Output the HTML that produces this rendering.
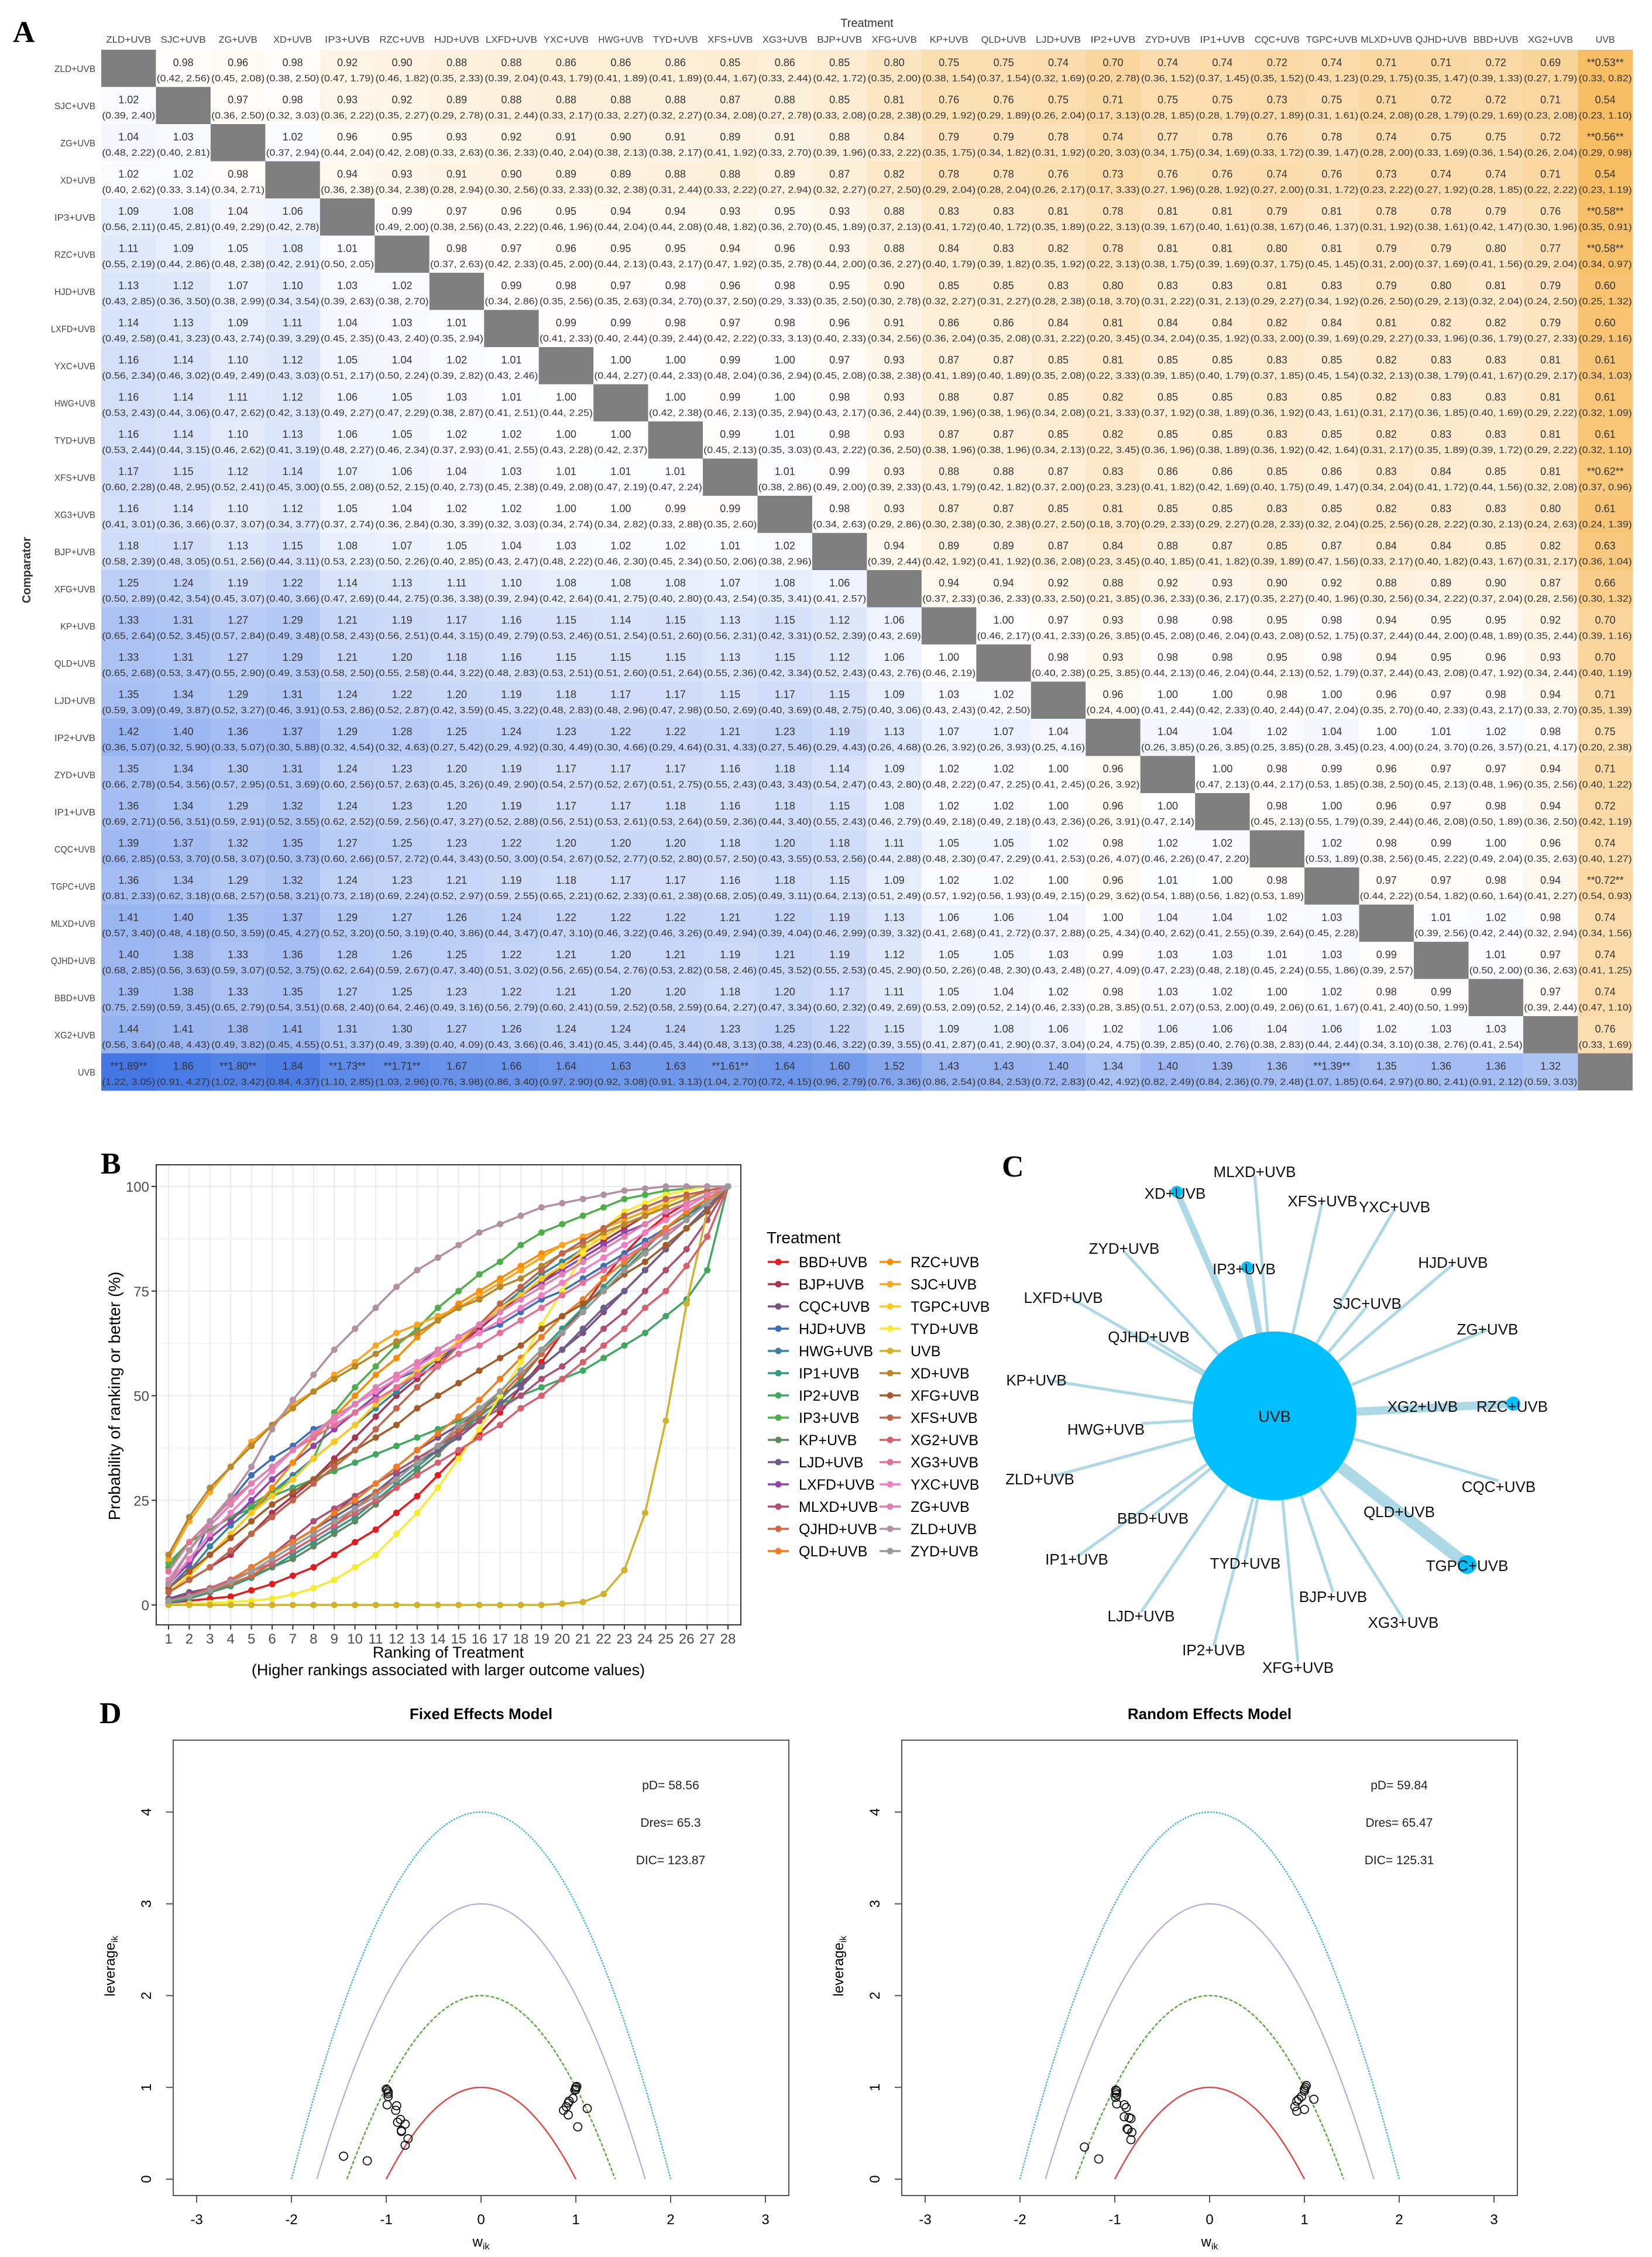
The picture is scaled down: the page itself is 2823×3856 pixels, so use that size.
<!DOCTYPE html>
<html><head><meta charset="utf-8"><title>NMA figure</title>
<style>
html,body{margin:0;padding:0;background:#fff;}
svg{display:block;font-family:"Liberation Sans",Arial,sans-serif;}
</style></head>
<body>
<svg id="fig" xmlns="http://www.w3.org/2000/svg" width="2823" height="3856" viewBox="0 0 2823 3856">
<rect x="0" y="0" width="2823" height="3856" fill="#fff"/>
<g id="pA"></g>
<g id="pB"></g>
<g id="pC"></g>
<g id="pD"></g>
</svg>
<script>
// ---------------- DATA ----------------
const treatments = ["ZLD+UVB","SJC+UVB","ZG+UVB","XD+UVB","IP3+UVB","RZC+UVB","HJD+UVB","LXFD+UVB","YXC+UVB","HWG+UVB","TYD+UVB","XFS+UVB","XG3+UVB","BJP+UVB","XFG+UVB","KP+UVB","QLD+UVB","LJD+UVB","IP2+UVB","ZYD+UVB","IP1+UVB","CQC+UVB","TGPC+UVB","MLXD+UVB","QJHD+UVB","BBD+UVB","XG2+UVB","UVB"];
const leagueEst = [[],
[1.02],
[1.04,1.03],
[1.02,1.02,0.98],
[1.09,1.08,1.04,1.06],
[1.11,1.09,1.05,1.08,1.01],
[1.13,1.12,1.07,1.10,1.03,1.02],
[1.14,1.13,1.09,1.11,1.04,1.03,1.01],
[1.16,1.14,1.10,1.12,1.05,1.04,1.02,1.01],
[1.16,1.14,1.11,1.12,1.06,1.05,1.03,1.01,1.00],
[1.16,1.14,1.10,1.13,1.06,1.05,1.02,1.02,1.00,1.00],
[1.17,1.15,1.12,1.14,1.07,1.06,1.04,1.03,1.01,1.01,1.01],
[1.16,1.14,1.10,1.12,1.05,1.04,1.02,1.02,1.00,1.00,0.99,0.99],
[1.18,1.17,1.13,1.15,1.08,1.07,1.05,1.04,1.03,1.02,1.02,1.01,1.02],
[1.25,1.24,1.19,1.22,1.14,1.13,1.11,1.10,1.08,1.08,1.08,1.07,1.08,1.06],
[1.33,1.31,1.27,1.29,1.21,1.19,1.17,1.16,1.15,1.14,1.15,1.13,1.15,1.12,1.06],
[1.33,1.31,1.27,1.29,1.21,1.20,1.18,1.16,1.15,1.15,1.15,1.13,1.15,1.12,1.06,1.00],
[1.35,1.34,1.29,1.31,1.24,1.22,1.20,1.19,1.18,1.17,1.17,1.15,1.17,1.15,1.09,1.03,1.02],
[1.42,1.40,1.36,1.37,1.29,1.28,1.25,1.24,1.23,1.22,1.22,1.21,1.23,1.19,1.13,1.07,1.07,1.04],
[1.35,1.34,1.30,1.31,1.24,1.23,1.20,1.19,1.17,1.17,1.17,1.16,1.18,1.14,1.09,1.02,1.02,1.00,0.96],
[1.36,1.34,1.29,1.32,1.24,1.23,1.20,1.19,1.17,1.17,1.18,1.16,1.18,1.15,1.08,1.02,1.02,1.00,0.96,1.00],
[1.39,1.37,1.32,1.35,1.27,1.25,1.23,1.22,1.20,1.20,1.20,1.18,1.20,1.18,1.11,1.05,1.05,1.02,0.98,1.02,1.02],
[1.36,1.34,1.29,1.32,1.24,1.23,1.21,1.19,1.18,1.17,1.17,1.16,1.18,1.15,1.09,1.02,1.02,1.00,0.96,1.01,1.00,0.98],
[1.41,1.40,1.35,1.37,1.29,1.27,1.26,1.24,1.22,1.22,1.22,1.21,1.22,1.19,1.13,1.06,1.06,1.04,1.00,1.04,1.04,1.02,1.03],
[1.40,1.38,1.33,1.36,1.28,1.26,1.25,1.22,1.21,1.20,1.21,1.19,1.21,1.19,1.12,1.05,1.05,1.03,0.99,1.03,1.03,1.01,1.03,0.99],
[1.39,1.38,1.33,1.35,1.27,1.25,1.23,1.22,1.21,1.20,1.20,1.18,1.20,1.17,1.11,1.05,1.04,1.02,0.98,1.03,1.02,1.00,1.02,0.98,0.99],
[1.44,1.41,1.38,1.41,1.31,1.30,1.27,1.26,1.24,1.24,1.24,1.23,1.25,1.22,1.15,1.09,1.08,1.06,1.02,1.06,1.06,1.04,1.06,1.02,1.03,1.03],
[1.89,1.86,1.80,1.84,1.73,1.71,1.67,1.66,1.64,1.63,1.63,1.61,1.64,1.60,1.52,1.43,1.43,1.40,1.34,1.40,1.39,1.36,1.39,1.35,1.36,1.36,1.32]];
const leagueLo = [[],
[0.39],
[0.48,0.40],
[0.40,0.33,0.34],
[0.56,0.45,0.49,0.42],
[0.55,0.44,0.48,0.42,0.50],
[0.43,0.36,0.38,0.34,0.39,0.38],
[0.49,0.41,0.43,0.39,0.45,0.43,0.35],
[0.56,0.46,0.49,0.43,0.51,0.50,0.39,0.43],
[0.53,0.44,0.47,0.42,0.49,0.47,0.38,0.41,0.44],
[0.53,0.44,0.46,0.41,0.48,0.46,0.37,0.41,0.43,0.42],
[0.60,0.48,0.52,0.45,0.55,0.52,0.40,0.45,0.49,0.47,0.47],
[0.41,0.36,0.37,0.34,0.37,0.36,0.30,0.32,0.34,0.34,0.33,0.35],
[0.58,0.48,0.51,0.44,0.53,0.50,0.40,0.43,0.48,0.46,0.45,0.50,0.38],
[0.50,0.42,0.45,0.40,0.47,0.44,0.36,0.39,0.42,0.41,0.40,0.43,0.35,0.41],
[0.65,0.52,0.57,0.49,0.58,0.56,0.44,0.49,0.53,0.51,0.51,0.56,0.42,0.52,0.43],
[0.65,0.53,0.55,0.49,0.58,0.55,0.44,0.48,0.53,0.51,0.51,0.55,0.42,0.52,0.43,0.46],
[0.59,0.49,0.52,0.46,0.53,0.52,0.42,0.45,0.48,0.48,0.47,0.50,0.40,0.48,0.40,0.43,0.42],
[0.36,0.32,0.33,0.30,0.32,0.32,0.27,0.29,0.30,0.30,0.29,0.31,0.27,0.29,0.26,0.26,0.26,0.25],
[0.66,0.54,0.57,0.51,0.60,0.57,0.45,0.49,0.54,0.52,0.51,0.55,0.43,0.54,0.43,0.48,0.47,0.41,0.26],
[0.69,0.56,0.59,0.52,0.62,0.59,0.47,0.52,0.56,0.53,0.53,0.59,0.44,0.55,0.46,0.49,0.49,0.43,0.26,0.47],
[0.66,0.53,0.58,0.50,0.60,0.57,0.44,0.50,0.54,0.52,0.52,0.57,0.43,0.53,0.44,0.48,0.47,0.41,0.26,0.46,0.47],
[0.81,0.62,0.68,0.58,0.73,0.69,0.52,0.59,0.65,0.62,0.61,0.68,0.49,0.64,0.51,0.57,0.56,0.49,0.29,0.54,0.56,0.53],
[0.57,0.48,0.50,0.45,0.52,0.50,0.40,0.44,0.47,0.46,0.46,0.49,0.39,0.46,0.39,0.41,0.41,0.37,0.25,0.40,0.41,0.39,0.45],
[0.68,0.56,0.59,0.52,0.62,0.59,0.47,0.51,0.56,0.54,0.53,0.58,0.45,0.55,0.45,0.50,0.48,0.43,0.27,0.47,0.48,0.45,0.55,0.39],
[0.75,0.59,0.65,0.54,0.68,0.64,0.49,0.56,0.60,0.59,0.58,0.64,0.47,0.60,0.49,0.53,0.52,0.46,0.28,0.51,0.53,0.49,0.61,0.41,0.50],
[0.56,0.48,0.49,0.45,0.51,0.49,0.40,0.43,0.46,0.45,0.45,0.48,0.38,0.46,0.39,0.41,0.41,0.37,0.24,0.39,0.40,0.38,0.44,0.34,0.38,0.41],
[1.22,0.91,1.02,0.84,1.10,1.03,0.76,0.86,0.97,0.92,0.91,1.04,0.72,0.96,0.76,0.86,0.84,0.72,0.42,0.82,0.84,0.79,1.07,0.64,0.80,0.91,0.59]];
const leagueHi = [[],
[2.40],
[2.22,2.81],
[2.62,3.14,2.71],
[2.11,2.81,2.29,2.78],
[2.19,2.86,2.38,2.91,2.05],
[2.85,3.50,2.99,3.54,2.63,2.70],
[2.58,3.23,2.74,3.29,2.35,2.40,2.94],
[2.34,3.02,2.49,3.03,2.17,2.24,2.82,2.46],
[2.43,3.06,2.62,3.13,2.27,2.29,2.87,2.51,2.25],
[2.44,3.15,2.62,3.19,2.27,2.34,2.93,2.55,2.28,2.37],
[2.28,2.95,2.41,3.00,2.08,2.15,2.73,2.38,2.08,2.19,2.24],
[3.01,3.66,3.07,3.77,2.74,2.84,3.39,3.03,2.74,2.82,2.88,2.60],
[2.39,3.05,2.56,3.11,2.23,2.26,2.85,2.47,2.22,2.30,2.34,2.06,2.96],
[2.89,3.54,3.07,3.66,2.69,2.75,3.38,2.94,2.64,2.75,2.80,2.54,3.41,2.57],
[2.64,3.45,2.84,3.48,2.43,2.51,3.15,2.79,2.46,2.54,2.60,2.31,3.31,2.39,2.69],
[2.68,3.47,2.90,3.53,2.50,2.58,3.22,2.83,2.51,2.60,2.64,2.36,3.34,2.43,2.76,2.19],
[3.09,3.87,3.27,3.91,2.86,2.87,3.59,3.22,2.83,2.96,2.98,2.69,3.69,2.75,3.06,2.43,2.50],
[5.07,5.90,5.07,5.88,4.54,4.63,5.42,4.92,4.49,4.66,4.64,4.33,5.46,4.43,4.68,3.92,3.93,4.16],
[2.78,3.56,2.95,3.69,2.56,2.63,3.26,2.90,2.57,2.67,2.75,2.43,3.43,2.47,2.80,2.22,2.25,2.45,3.92],
[2.71,3.51,2.91,3.55,2.52,2.56,3.27,2.88,2.51,2.61,2.64,2.36,3.40,2.43,2.79,2.18,2.18,2.36,3.91,2.14],
[2.85,3.70,3.07,3.73,2.66,2.72,3.43,3.00,2.67,2.77,2.80,2.50,3.55,2.56,2.88,2.30,2.29,2.53,4.07,2.26,2.20],
[2.33,3.18,2.57,3.21,2.18,2.24,2.97,2.55,2.21,2.33,2.38,2.05,3.11,2.13,2.49,1.92,1.93,2.15,3.62,1.88,1.82,1.89],
[3.40,4.18,3.59,4.27,3.20,3.19,3.86,3.47,3.10,3.22,3.26,2.94,4.04,2.99,3.32,2.68,2.72,2.88,4.34,2.62,2.55,2.64,2.28],
[2.85,3.63,3.07,3.75,2.64,2.67,3.40,3.02,2.65,2.76,2.82,2.46,3.52,2.53,2.90,2.26,2.30,2.48,4.09,2.23,2.18,2.24,1.86,2.57],
[2.59,3.45,2.79,3.51,2.40,2.46,3.16,2.79,2.41,2.52,2.59,2.27,3.34,2.32,2.69,2.09,2.14,2.33,3.85,2.07,2.00,2.06,1.67,2.40,1.99],
[3.64,4.43,3.82,4.55,3.37,3.39,4.09,3.66,3.41,3.44,3.44,3.13,4.23,3.22,3.55,2.87,2.90,3.04,4.75,2.85,2.76,2.83,2.44,3.10,2.76,2.54],
[3.05,4.27,3.42,4.37,2.85,2.96,3.98,3.40,2.90,3.08,3.13,2.70,4.15,2.79,3.36,2.54,2.53,2.83,4.92,2.49,2.36,2.48,1.85,2.97,2.41,2.12,3.03]];

// Panel B: cumulative ranking probabilities (%), ranks 1..28
const rankTicks = [1,2,3,4,5,6,7,8,9,10,11,12,13,14,15,16,17,18,19,20,21,22,23,24,25,26,27,28];
const probTicks = [0,25,50,75,100];
const sucraNames = ["BBD+UVB","BJP+UVB","CQC+UVB","HJD+UVB","HWG+UVB","IP1+UVB","IP2+UVB","IP3+UVB","KP+UVB","LJD+UVB","LXFD+UVB","MLXD+UVB","QJHD+UVB","QLD+UVB","RZC+UVB","SJC+UVB","TGPC+UVB","TYD+UVB","UVB","XD+UVB","XFG+UVB","XFS+UVB","XG2+UVB","XG3+UVB","YXC+UVB","ZG+UVB","ZLD+UVB","ZYD+UVB"];
const sucraColors = ["#e41a1c","#a8344f","#7a5082","#3d6fb6","#36849f","#2f9a86","#3fa85e","#4daf4a","#5e8a62","#6b5e8c","#8e44ad","#b04e72","#d06a3e","#f47b20","#ff8c00","#ffa41c","#ffc81a","#f8ec2a","#d2b22c","#b8862b","#a65a28","#c0654a","#d8606e","#e86f98","#f47cc4","#e07fb0","#b38fa2","#999999"];
const sBBD=[0.5,1,1.5,2,3.5,5,7,9,12,15,18,22,26,31,36,41,46,52,58,65,71,78,84,89,93,96,98,100];
const sBJP=[3,6,9,12,17,22,26,30,35,40,45,50,54,58,62,66,70,74,77,81,84,87,90,93,95,97,99,100];
const sCQC=[1.5,3,4,6,9,12,15,18,22,26,29,33,37,40,43,46,50,53,57,61,65,70,75,80,85,90,95,100];
const sHJD=[4,9,20,25,31,35,38,42,44,48,51,54,56,59,62,65,67,70,73,75,78,81,84,87,90,93,96,100];
const sHWG=[4,8,14,19,23,27,31,35,39,43,47,51,55,59,63,67,71,75,79,82,85,88,91,93,95,97,99,100];
const sIP1=[0.5,1.5,3,4.5,6.5,9,12,15,18,21,25,29,33,37,41,46,51,56,61,66,71,76,81,86,90,94,97,100];
const sIP2=[9,15,18,21,23,26,28,30,32,34,36,38,40,42,44,46,48,50,52,54,56,59,62,65,69,73,80,100];
const sIP3=[10,15,18,21,24,27,30,35,46,52,57,62,66,71,75,79,82,86,89,91,93,95,97,98,99,99.5,100,100];
const sKP=[1,2,3,5,7,9,11,14,17,20,24,28,32,36,41,45,49,54,60,65,70,75,80,85,90,93,97,100];
const sLJD=[1,2.5,4,6,9,12,15,18,21,24,27,31,34,37,40,44,48,52,57,61,66,71,75,80,85,90,95,100];
const sLXFD=[5,10,16,20,25,30,34,38,42,46,50,54,57,61,64,67,71,74,77,80,83,86,89,91,94,96,98,100];
const sMLXD=[1,2.5,4,6,9,12,16,20,23,26,29,32,35,38,41,44,47,50,54,57,61,66,70,75,80,85,92,100];
const sQJHD=[1,2,3.5,5,7,10,13,16,19,23,27,30,34,38,42,46,50,55,60,65,70,75,80,84,88,92,96,100];
const sQLD=[1,2,4,6,9,12,15,18,22,25,29,33,37,41,45,49,54,59,64,69,73,78,82,86,90,94,97,100];
const sRZC=[4,8,12,17,22,28,34,40,45,50,55,59,64,68,72,75,78,81,84,86,88,90,92,94,96,98,99,100];
const sSJC=[11,20,27,33,39,43,48,51,55,58,62,65,67,69,71,74,77,80,83,86,88,90,92,94,96,98,99,100];
const sTGPC=[3,7,12,17,22,26,30,35,39,43,48,52,56,59,63,67,71,74,78,81,85,88,91,93,96,98,99,100];
const sTYD=[0,0.3,0.5,0.7,1,1.5,2.5,4,6,9,12,17,22,28,35,42,50,58,67,75,84,90,94,96,98,99,100,100];
const sUVB=[0,0,0,0,0,0,0,0,0,0,0,0,0,0,0,0,0,0,0,0.3,0.7,2.6,8.3,22,44,72,94,100];
const sXD=[12,21,28,33,38,43,47,51,54,57,60,63,65,68,71,73,76,78,81,84,86,89,91,93,95,97,99,100];
const sXFG=[4,8,12,16,20,24,27,30,34,37,40,43,47,50,53,56,59,62,66,69,72,75,79,82,86,90,94,100];
const sXFS=[3,6,9,13,17,21,25,29,33,37,42,47,52,57,62,67,72,76,80,84,87,90,93,95,97,98,99,100];
const sXG2=[1,2,4,6,8,10,13,16,19,22,25,28,31,34,37,40,43,47,50,54,58,62,66,71,75,81,88,100];
const sXG3=[8,15,20,25,29,33,37,40,43,46,49,52,55,57,60,62,65,68,71,74,77,80,83,86,89,92,96,100];
const sYXC=[5,11,17,22,27,32,37,41,44,48,51,54,57,60,62,65,68,71,74,77,80,83,86,89,92,95,98,100];
const sZG=[6,13,19,24,29,33,37,41,45,48,52,55,58,61,64,67,70,73,76,79,82,85,88,91,94,96,98,100];
const sZLD=[5,13,20,26,33,42,49,55,61,66,71,76,80,83,86,89,91,93,95,96,97,98,99,99.5,100,100,100,100];
const sZYD=[1,2,3.5,5.5,8,11,14,17,20,23,26,30,34,38,43,47,51,56,61,65,70,75,80,84,88,92,96,100];
const sucraSeries=[sBBD,sBJP,sCQC,sHJD,sHWG,sIP1,sIP2,sIP3,sKP,sLJD,sLXFD,sMLXD,sQJHD,sQLD,sRZC,sSJC,sTGPC,sTYD,sUVB,sXD,sXFG,sXFS,sXG2,sXG3,sYXC,sZG,sZLD,sZYD];

// Panel C: network (number of studies per edge with UVB)
const netNodes = ["MLXD+UVB","XD+UVB","XFS+UVB","YXC+UVB","ZYD+UVB","IP3+UVB","HJD+UVB","LXFD+UVB","SJC+UVB","ZG+UVB","QJHD+UVB","KP+UVB","XG2+UVB","RZC+UVB","HWG+UVB","ZLD+UVB","CQC+UVB","QLD+UVB","BBD+UVB","TGPC+UVB","IP1+UVB","TYD+UVB","BJP+UVB","LJD+UVB","XG3+UVB","IP2+UVB","XFG+UVB"];
const netStudies = [1,3,1,1,1,3,1,1,1,1,1,1,1,4,1,1,1,1,1,6,1,1,1,1,1,1,1];

// Panel D: leverage vs w_ik
const levCurves=[4,3,2,1];
const wTicks=[-3,-2,-1,0,1,2,3];
const levTicks=[0,1,2,3,4];
const fixedW=[-1.0,-0.99,-0.98,-0.98,-0.98,-0.99,-0.89,-0.9,-0.85,-0.88,-0.8,-0.84,-0.84,-0.77,-0.8,-1.45,-1.2,1.0,1.01,1.0,0.99,0.97,0.93,0.92,0.9,0.87,0.92,1.12,1.02];
const fixedLev=[0.98,0.97,0.95,0.93,0.90,0.81,0.80,0.75,0.65,0.62,0.60,0.53,0.52,0.44,0.37,0.25,0.20,1.0,1.01,0.98,0.97,0.88,0.85,0.83,0.79,0.75,0.70,0.77,0.57];
const randW=[-0.99,-0.98,-0.99,-0.98,-0.99,-0.98,-0.9,-0.88,-0.9,-0.85,-0.83,-0.87,-0.86,-0.82,-0.83,-1.32,-1.17,1.02,1.01,1.0,1.0,0.97,0.94,0.92,0.9,0.92,1.0,1.1];
const randLev=[0.97,0.96,0.94,0.92,0.89,0.82,0.81,0.78,0.68,0.67,0.66,0.55,0.54,0.51,0.43,0.35,0.22,1.02,1.0,0.98,0.96,0.90,0.87,0.85,0.79,0.74,0.76,0.87];
const fixedStats=["pD= 58.56","Dres= 65.3","DIC= 123.87"];
const randStats=["pD= 59.84","Dres= 65.47","DIC= 125.31"];

// ---------------- HELPERS ----------------
const NS="http://www.w3.org/2000/svg";
function mk(parent,tag,attrs,text){const e=document.createElementNS(NS,tag);for(const k in attrs)e.setAttribute(k,attrs[k]);if(text!==undefined)e.textContent=text;parent.appendChild(e);return e;}
const f2=v=>v.toFixed(2);

// ---------------- PANEL A ----------------
(function(){
const g=document.getElementById('pA');
const x0=173,y0=85,cw=93.46,rh=63.5,n=treatments.length;
let t=mk(g,'text',{x:22,y:72,'font-family':'Liberation Serif,serif','font-weight':'bold','font-size':52,fill:'#000'},'A');

t=mk(g,'text',{x:x0+cw*n/2,y:46,'text-anchor':'middle','font-size':20,fill:'#333'},'Treatment');

t=mk(g,'text',{x:0,y:0,'text-anchor':'middle','font-size':20,'font-weight':'bold',fill:'#333',transform:'translate(52,'+(y0+rh*n/2)+') rotate(-90)'},'Comparator');

function color(v){let tt=Math.log(v)/Math.log(1.9);tt=Math.max(-1,Math.min(1,tt));
 let c=tt>=0?[66,118,228]:[247,190,100];let a=Math.abs(tt);
 if(tt<0)a=Math.min(1,a*1.15);
 const r=Math.round(255+(c[0]-255)*a),gg=Math.round(255+(c[1]-255)*a),b=Math.round(255+(c[2]-255)*a);return `rgb(${r},${gg},${b})`;}
for(let j=0;j<n;j++){const h=mk(g,'text',{x:x0+cw*j+cw/2,y:73,'text-anchor':'middle','font-size':16,fill:'#444',textLength:Math.min(88,treatments[j].length*11),lengthAdjust:'spacingAndGlyphs'},treatments[j]);
 }
for(let i=0;i<n;i++){const h=mk(g,'text',{x:163,y:y0+rh*i+rh/2+6,'text-anchor':'end','font-size':16,fill:'#444',textLength:Math.min(76,treatments[i].length*10),lengthAdjust:'spacingAndGlyphs'},treatments[i]);
 }
for(let i=0;i<n;i++)for(let j=0;j<n;j++){
 const x=x0+cw*j,y=y0+rh*i;
 if(i===j){const r=mk(g,'rect',{x:x,y:y,width:cw,height:rh,fill:'#7f7f7f'});continue;}
 let v,lo,hi;
 if(i>j){v=leagueEst[i][j];lo=leagueLo[i][j];hi=leagueHi[i][j];}
 else{v=1/leagueEst[j][i];lo=1/leagueHi[j][i];hi=1/leagueLo[j][i];}
 const cell=mk(g,'g',{});
 mk(cell,'rect',{x:x,y:y,width:cw+0.5,height:rh+0.5,fill:color(v)});
 const sig=(lo>1||hi<1);
 mk(cell,'text',{x:x+cw/2,y:y+28,'text-anchor':'middle','font-size':18,fill:'#333'},(sig?'**':'')+f2(v)+(sig?'**':''));
 mk(cell,'text',{x:x+cw/2,y:y+54,'text-anchor':'middle','font-size':16,fill:'#333',textLength:91,lengthAdjust:'spacingAndGlyphs'},'('+f2(lo)+', '+f2(hi)+')');
}
})();

// ---------------- PANEL B ----------------
(function(){
const g=document.getElementById('pB');
const L=267,R=1266,T=1990,B=2776;
const xB=r=>288+(r-1)*(1244-288)/27;
const yB=v=>2742-v*(2742-2027)/100;
let t=mk(g,'text',{x:172,y:2005,'font-family':'Liberation Serif,serif','font-weight':'bold','font-size':52},'B');

mk(g,'rect',{x:L,y:T,width:R-L,height:B-T,fill:'#fff'});
for(let v=-12.5;v<=112.5;v+=12.5){const yy=yB(v);if(yy<T||yy>B)continue;mk(g,'line',{x1:L,x2:R,y1:yy,y2:yy,stroke:'#ebebeb','stroke-width':probTicks.includes(v)?2:1});}
rankTicks.forEach(r=>mk(g,'line',{x1:xB(r),x2:xB(r),y1:T,y2:B,stroke:'#ebebeb','stroke-width':2}));
sucraSeries.forEach((s,k)=>{
 const sg=mk(g,'g',{});
 mk(sg,'polyline',{points:s.map((v,i)=>xB(rankTicks[i])+','+yB(v)).join(' '),fill:'none',stroke:sucraColors[k],'stroke-width':3.5});
 s.forEach((v,i)=>mk(sg,'circle',{cx:xB(rankTicks[i]),cy:yB(v),r:5.5,fill:sucraColors[k]}));
});
mk(g,'rect',{x:L,y:T,width:R-L,height:B-T,fill:'none',stroke:'#333','stroke-width':2});
probTicks.forEach(v=>{mk(g,'line',{x1:L-8,x2:L,y1:yB(v),y2:yB(v),stroke:'#333','stroke-width':2});
 const tt=mk(g,'text',{x:L-12,y:yB(v)+9,'text-anchor':'end','font-size':24,fill:'#4d4d4d'},String(v));});
rankTicks.forEach(r=>{mk(g,'line',{x1:xB(r),x2:xB(r),y1:B,y2:B+8,stroke:'#333','stroke-width':2});
 const tt=mk(g,'text',{x:xB(r),y:B+32,'text-anchor':'middle','font-size':24,fill:'#4d4d4d'},String(r));});
t=mk(g,'text',{x:0,y:0,'text-anchor':'middle','font-size':28,fill:'#000',transform:'translate(205,2385) rotate(-90)'},'Probability of ranking or better (%)');

t=mk(g,'text',{x:766,y:2832,'text-anchor':'middle','font-size':27,fill:'#000'},'Ranking of Treatment');

t=mk(g,'text',{x:766,y:2862,'text-anchor':'middle','font-size':27,fill:'#000'},'(Higher rankings associated with larger outcome values)');

t=mk(g,'text',{x:1310,y:2124,'font-size':28,fill:'#000'},'Treatment');

sucraNames.forEach((nm,k)=>{const col=Math.floor(k/14),row=k%14;const lx=col?1503:1312,ly=2156+row*38;
 const e=mk(g,'g',{});
 mk(e,'line',{x1:lx,x2:lx+36,y1:ly,y2:ly,stroke:sucraColors[k],'stroke-width':3.5});
 mk(e,'circle',{cx:lx+18,cy:ly,r:5.5,fill:sucraColors[k]});
 mk(e,'text',{x:lx+53,y:ly+9,'font-size':25,fill:'#000'},nm);});
})();

// ---------------- PANEL C ----------------
(function(){
const g=document.getElementById('pC');
const cx=2178,cy=2419,R=140;
const nodeXY=[[2144,2008],[2011,2036],[2260,2051],[2383,2066],[1921,2138],[2131,2165],[2483,2160],[1830,2218],[2336,2232],[2542,2272],[1963,2284],[1790,2358],[2431,2403],[2586,2398],[1950,2432],[1800,2522],[2561,2530],[2391,2578],[1970,2590],[2507,2673],[1840,2660],[2128,2664],[2278,2720],[1950,2754],[2398,2766],[2074,2812],[2218,2840]];
let t=mk(g,'text',{x:1712,y:2010,'font-family':'Liberation Serif,serif','font-weight':'bold','font-size':52},'C');

netNodes.forEach((nm,k)=>{const [x,y]=nodeXY[k];const e=mk(g,'line',{x1:cx,y1:cy,x2:x,y2:y,stroke:'#add8e6','stroke-width':2+netStudies[k]*3,'stroke-linecap':'butt'});
 });
netNodes.forEach((nm,k)=>{if(netStudies[k]>1){const [x,y]=nodeXY[k];const c=mk(g,'circle',{cx:x,cy:y,r:4+netStudies[k]*2,fill:'#00bfff'});}});
let c=mk(g,'ellipse',{cx:cx,cy:cy,rx:R,ry:R*1.03,fill:'#00bfff'});
t=mk(g,'text',{x:cx,y:cy+10,'text-anchor':'middle','font-size':27,fill:'#111'},'UVB');
const labelXY=[[2144,2011],[2008,2048],[2260,2061],[2383,2071],[1921,2142],[2126,2177],[2483,2166],[1817,2226],[2336,2236],[2542,2280],[1963,2293],[1771,2367],[2431,2412],[2584,2412],[1890,2451],[1777,2536],[2561,2549],[2391,2592],[1970,2603],[2507,2684],[1840,2673],[2128,2680],[2278,2737],[1950,2770],[2398,2781],[2074,2828],[2218,2858]];
netNodes.forEach((nm,k)=>{const [x,y]=labelXY[k];const tt=mk(g,'text',{x:x,y:y,'text-anchor':'middle','font-size':26,fill:'#111'},nm);
 });
})();

// ---------------- PANEL D ----------------
(function(){
const g=document.getElementById('pD');
let t=mk(g,'text',{x:170,y:2944,'font-family':'Liberation Serif,serif','font-weight':'bold','font-size':52},'D');

const styles=[{c:'#47b6d8',d:'3,2',w:2.5},{c:'#b8a9e2',d:'',w:2.2},{c:'#5ea843',d:'6,3',w:2.5},{c:'#e04a4a',d:'',w:2.5}];
function panel(name,L,R,cx0,title,ws,ls,stats,tickX,titleX){
 const T=2973,B=3751;const xD=w=>cx0+w*162;const yD=l=>3723-l*156.8;
 const pg=mk(g,'g',{});
 let tt=mk(pg,'text',{x:(L+R)/2,y:2937,'text-anchor':'middle','font-size':26,'font-weight':'bold',fill:'#000'},title);
 
 mk(pg,'rect',{x:L,y:T,width:R-L,height:B-T,fill:'#fff',stroke:'#555','stroke-width':2});
 levCurves.forEach((c,k)=>{const pts=[];const lim=Math.sqrt(c);for(let i=0;i<=120;i++){const w=-lim+2*lim*i/120;pts.push(xD(w)+','+yD(c-w*w));}
  const p=mk(pg,'polyline',{points:pts.join(' '),fill:'none',stroke:styles[k].c,'stroke-width':styles[k].w,'stroke-dasharray':styles[k].d});
  });
 ws.forEach((w,i)=>{const p=mk(pg,'circle',{cx:xD(w),cy:yD(ls[i]),r:7,fill:'none',stroke:'#111','stroke-width':1.8});});
 stats.forEach((s,i)=>{const e=mk(pg,'text',{x:titleX,y:3057+i*64,'text-anchor':'middle','font-size':21,fill:'#222'},s);});
 wTicks.forEach(w=>{mk(pg,'line',{x1:xD(w),x2:xD(w),y1:B,y2:B+12,stroke:'#555','stroke-width':2});
  const e=mk(pg,'text',{x:xD(w),y:3800,'text-anchor':'middle','font-size':24,fill:'#000'},String(w));});
 mk(pg,'line',{x1:xD(-3),x2:xD(3),y1:B,y2:B,stroke:'#555','stroke-width':2});
 levTicks.forEach(l=>{mk(pg,'line',{x1:L-12,x2:L,y1:yD(l),y2:yD(l),stroke:'#555','stroke-width':2});
  const e=mk(pg,'text',{x:0,y:0,'text-anchor':'middle','font-size':24,fill:'#000',transform:`translate(${tickX},${yD(l)}) rotate(-90)`},String(l));});
 let e=mk(pg,'text',{x:cx0,y:3838,'text-anchor':'middle','font-size':24,fill:'#000'});
 mk(e,'tspan',{},'w');mk(e,'tspan',{'font-size':16,dy:5},'ik');
 e=mk(pg,'text',{x:0,y:0,'text-anchor':'middle','font-size':24,fill:'#000',transform:`translate(${tickX-62},3359) rotate(-90)`});
 mk(e,'tspan',{},'leverage');mk(e,'tspan',{'font-size':16,dy:5},'ik');
}
panel('fixed-effects-plot',296,1348,822,'Fixed Effects Model',fixedW,fixedLev,fixedStats,258,1146);
panel('random-effects-plot',1541,2593,2067,'Random Effects Model',randW,randLev,randStats,1503,2391);
})();
</script>
</body></html>
